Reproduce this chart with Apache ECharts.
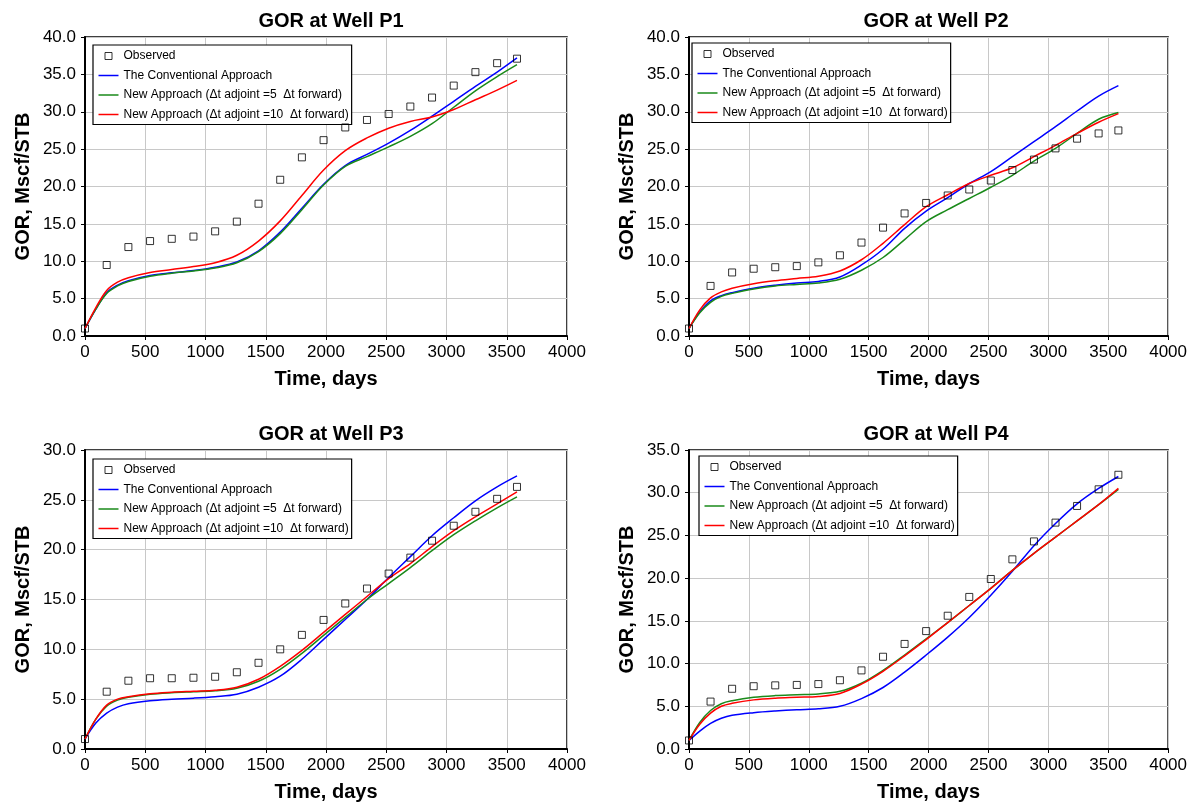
<!DOCTYPE html>
<html>
<head>
<meta charset="utf-8">
<script src="https://cdn.jsdelivr.net/npm/echarts@6/dist/echarts.min.js"></script>
<style>
  html, body { margin: 0; padding: 0; background: #fff; }
  #chart { width: 1190px; height: 805px; }
</style>
</head>
<body>
<div id="chart"></div>
<script>
// ---------------- DATA ----------------
const wellTitles = ['GOR at Well P1', 'GOR at Well P2', 'GOR at Well P3', 'GOR at Well P4'];
const seriesNames = [
  'Observed',
  'The Conventional Approach',
  'New Approach (\u0394t adjoint =5  \u0394t forward)',
  'New Approach (\u0394t adjoint =10  \u0394t forward)'
];
const xAxisName = 'Time, days';
const yAxisName = 'GOR, Mscf/STB';
const yMaxes = [40, 40, 30, 35];

const obsDays = [0, 180, 360, 540, 720, 900, 1080, 1260, 1440, 1620, 1800, 1980, 2160, 2340, 2520, 2700, 2880, 3060, 3240, 3420, 3585];
const curveDays = [0, 90, 180, 270, 360, 540, 720, 900, 1080, 1260, 1440, 1620, 1800, 1980, 2160, 2340, 2520, 2700, 2880, 3060, 3240, 3420, 3585];

// Well P1
const p1Observed = [1.0, 9.5, 11.9, 12.7, 13.0, 13.3, 14.0, 15.3, 17.7, 20.9, 23.9, 26.2, 27.9, 28.9, 29.7, 30.7, 31.9, 33.5, 35.3, 36.5, 37.1];
const p1Conventional = [1.0, 3.6, 5.8, 6.8, 7.4, 8.1, 8.45, 8.75, 9.2, 9.9, 11.4, 13.9, 17.1, 20.3, 22.8, 24.3, 25.8, 27.5, 29.4, 31.4, 33.4, 35.3, 37.2];
const p1New5 = [1.0, 3.6, 5.7, 6.7, 7.3, 8.0, 8.4, 8.7, 9.1, 9.8, 11.3, 13.7, 16.9, 20.2, 22.7, 24.0, 25.3, 26.7, 28.4, 30.6, 32.8, 34.7, 36.3];
const p1New10 = [1.0, 3.8, 6.1, 7.2, 7.8, 8.5, 8.9, 9.3, 9.8, 10.8, 12.7, 15.4, 18.8, 22.2, 24.8, 26.5, 27.8, 28.7, 29.3, 30.3, 31.6, 32.9, 34.2];

// Well P2
const p2Observed = [1.0, 6.7, 8.5, 9.0, 9.2, 9.35, 9.85, 10.8, 12.5, 14.5, 16.4, 17.8, 18.8, 19.6, 20.8, 22.2, 23.6, 25.1, 26.4, 27.1, 27.5];
const p2Conventional = [1.0, 3.2, 4.7, 5.4, 5.8, 6.4, 6.8, 7.1, 7.3, 7.9, 9.5, 11.6, 14.4, 16.7, 18.5, 20.4, 22.0, 24.0, 26.0, 28.0, 30.1, 32.1, 33.5];
const p2New5 = [1.0, 3.1, 4.5, 5.3, 5.7, 6.3, 6.7, 6.9, 7.1, 7.6, 8.8, 10.5, 12.9, 15.3, 16.9, 18.4, 19.9, 21.5, 23.4, 25.1, 27.1, 29.0, 29.9];
const p2New10 = [1.0, 3.5, 5.1, 5.9, 6.4, 7.0, 7.4, 7.7, 8.0, 8.7, 10.2, 12.4, 14.9, 17.3, 18.9, 20.4, 21.5, 22.5, 24.0, 25.5, 27.1, 28.6, 29.75];

// Well P3
const p3Observed = [1.0, 5.75, 6.85, 7.1, 7.1, 7.15, 7.25, 7.7, 8.65, 10.0, 11.45, 12.95, 14.6, 16.1, 17.6, 19.2, 20.9, 22.4, 23.8, 25.1, 26.3];
const p3Conventional = [1.0, 2.6, 3.6, 4.2, 4.55, 4.85, 5.0, 5.1, 5.25, 5.5, 6.2, 7.3, 9.0, 11.0, 13.0, 15.0, 17.2, 19.3, 21.4, 23.2, 24.9, 26.3, 27.4];
const p3New5 = [1.0, 3.0, 4.3, 4.9, 5.2, 5.5, 5.65, 5.75, 5.85, 6.1, 6.8, 8.0, 9.6, 11.4, 13.2, 15.0, 16.6, 18.2, 19.9, 21.5, 22.9, 24.2, 25.3];
const p3New10 = [1.0, 3.0, 4.4, 5.0, 5.25, 5.55, 5.7, 5.8, 5.9, 6.2, 7.0, 8.3, 9.9, 11.7, 13.5, 15.3, 17.1, 18.6, 20.3, 21.9, 23.3, 24.6, 25.8];

// Well P4
const p4Observed = [1.0, 5.55, 7.05, 7.35, 7.45, 7.5, 7.6, 8.05, 9.2, 10.8, 12.3, 13.8, 15.6, 17.8, 19.9, 22.2, 24.3, 26.5, 28.45, 30.4, 32.1];
const p4Conventional = [1.0, 2.1, 3.0, 3.6, 3.95, 4.25, 4.45, 4.6, 4.7, 5.0, 5.9, 7.2, 9.0, 11.0, 13.1, 15.4, 18.0, 20.8, 23.8, 26.4, 28.7, 30.5, 31.9];
const p4New5 = [1.0, 3.1, 4.5, 5.3, 5.65, 6.05, 6.25, 6.35, 6.45, 6.75, 7.7, 9.2, 11.0, 12.9, 14.8, 16.8, 18.8, 20.9, 22.9, 24.8, 26.7, 28.6, 30.4];
const p4New10 = [1.0, 2.9, 4.2, 5.0, 5.35, 5.75, 5.95, 6.05, 6.15, 6.5, 7.6, 9.1, 10.9, 12.8, 14.8, 16.8, 18.8, 20.9, 22.9, 24.8, 26.7, 28.6, 30.5];

const panelData = [
  [p1Observed, p1Conventional, p1New5, p1New10],
  [p2Observed, p2Conventional, p2New5, p2New10],
  [p3Observed, p3Conventional, p3New5, p3New10],
  [p4Observed, p4Conventional, p4New5, p4New10]
];

// ---------------- LAYOUT / STYLE ----------------
const FONT = 'Liberation Sans, Arial, Helvetica, sans-serif';
const lineColors = ['#0000ff', '#1a8a1a', '#ff0000'];
const grids = [
  { left: 85, top: 37, width: 482, height: 299 },
  { left: 689, top: 37, width: 484, height: 299 },
  { left: 85, top: 450, width: 482, height: 299 },
  { left: 689, top: 450, width: 484, height: 299 }
];
const legendPos = [
  { left: 93, top: 45 },
  { left: 692, top: 43 },
  { left: 93, top: 459 },
  { left: 699, top: 456 }
];
const titleTops = [6, 6, 419, 419];

function zip(xs, ys) { return xs.map((x, i) => [x, ys[i]]); }

const option = {
  animation: false,
  backgroundColor: '#ffffff',
  title: [], grid: [], xAxis: [], yAxis: [], legend: [], series: []
};

const obsIcon = 'path://M0,0M20,10M6.5,1.5h7v7h-7z';
const lineIcon = 'path://M0,0M20,10M0,4.25h20v1.5h-20z';

for (let p = 0; p < 4; p++) {
  const g = grids[p];
  option.grid.push({
    left: g.left, top: g.top, width: g.width, height: g.height,
    show: true, borderColor: '#000', borderWidth: 1.5, backgroundColor: 'transparent'
  });
  option.title.push({
    text: wellTitles[p],
    left: g.left + g.width / 2,
    top: titleTops[p],
    textAlign: 'center',
    textStyle: { fontFamily: FONT, fontSize: 20, fontWeight: 'bold', color: '#000' }
  });
  option.xAxis.push({
    type: 'value', gridIndex: p, min: 0, max: 4000, interval: 500,
    name: xAxisName, nameLocation: 'middle', nameGap: 33,
    nameTextStyle: { fontFamily: FONT, fontSize: 20, fontWeight: 'bold', color: '#000' },
    axisLine: { show: true, onZero: false, lineStyle: { color: '#000', width: 2 } },
    axisTick: { show: true, inside: false, length: 4, lineStyle: { color: '#000', width: 1 } },
    axisLabel: { fontFamily: FONT, fontSize: 17, color: '#000', margin: 8, showMaxLabel: true, showMinLabel: true,
                 formatter: v => String(v) },
    splitLine: { show: true, lineStyle: { color: '#c8c8c8', width: 1 } }
  });
  option.yAxis.push({
    type: 'value', gridIndex: p, min: 0, max: yMaxes[p], interval: 5,
    name: yAxisName, nameLocation: 'middle', nameGap: 52,
    nameTextStyle: { fontFamily: FONT, fontSize: 20, fontWeight: 'bold', color: '#000' },
    axisLine: { show: true, onZero: false, lineStyle: { color: '#000', width: 2 } },
    axisTick: { show: true, inside: false, length: 4, lineStyle: { color: '#000', width: 1 } },
    axisLabel: { fontFamily: FONT, fontSize: 17, color: '#000', margin: 9, formatter: v => v.toFixed(1) },
    splitLine: { show: true, lineStyle: { color: '#c8c8c8', width: 1 } }
  });
  option.legend.push({
    left: legendPos[p].left, top: legendPos[p].top,
    orient: 'vertical', align: 'left',
    backgroundColor: '#fff', borderColor: '#000', borderWidth: 1.2,
    padding: [4, 3, 3, 5], itemGap: 5.5, itemWidth: 20, itemHeight: 10,
    textStyle: { fontFamily: FONT, fontSize: 12, color: '#000', lineHeight: 14 },
    selectedMode: false,
    data: [
      { name: seriesNames[0], icon: obsIcon, itemStyle: { color: 'rgba(0,0,0,0)', borderColor: '#000', borderWidth: 1 } },
      { name: seriesNames[1], icon: lineIcon, itemStyle: { color: lineColors[0], borderWidth: 0 } },
      { name: seriesNames[2], icon: lineIcon, itemStyle: { color: lineColors[1], borderWidth: 0 } },
      { name: seriesNames[3], icon: lineIcon, itemStyle: { color: lineColors[2], borderWidth: 0 } }
    ]
  });
  const d = panelData[p];
  for (let k = 1; k <= 3; k++) {
    option.series.push({
      name: seriesNames[k], type: 'line', xAxisIndex: p, yAxisIndex: p,
      data: zip(curveDays, d[k]), smooth: 0.35, symbol: 'none', showSymbol: false,
      lineStyle: { color: lineColors[k - 1], width: 1.5 }, itemStyle: { color: lineColors[k - 1] },
      z: 2 + k
    });
  }
  option.series.push({
    name: seriesNames[0], type: 'scatter', xAxisIndex: p, yAxisIndex: p,
    data: zip(obsDays, d[0]), symbol: 'rect', symbolSize: 7,
    itemStyle: { color: 'rgba(0,0,0,0)', borderColor: '#000', borderWidth: 1 },
    z: 10
  });
}

const chart = echarts.init(document.getElementById('chart'), null, { renderer: 'canvas' });
chart.setOption(option);
</script>
</body>
</html>
